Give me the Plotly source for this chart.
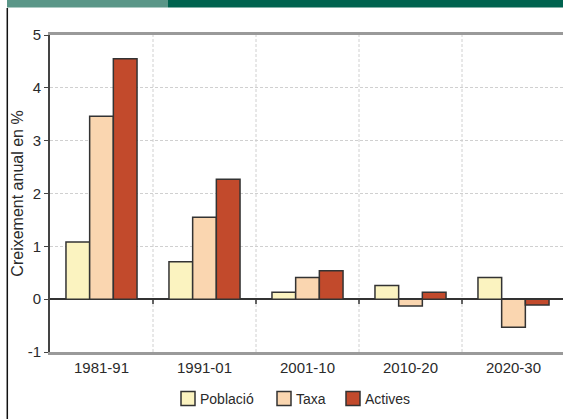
import plotly.graph_objects as go

categories = ["1981-91", "1991-01", "2001-10", "2010-20", "2020-30"]
poblacio = [1.08, 0.71, 0.13, 0.26, 0.41]
taxa = [3.46, 1.55, 0.41, -0.13, -0.53]
actives = [4.55, 2.27, 0.54, 0.13, -0.11]
series_names = ["Població", "Taxa", "Actives"]
series_colors = ["#FBF3C0", "#FAD6B0", "#C24A2C"]
ytick_vals = [-1, 0, 1, 2, 3, 4, 5]
ytick_text = ["-1", "0", "1", "2", "3", "4", "5"]

W, H = 563, 419
ml, mr, mt, mb = 50, 0, 35, 67
pw, ph = W - ml - mr, H - mt - mb

def px_x(p):
    return (p - ml) / pw

def px_y(p):
    return (H - mb - p) / ph

fig = go.Figure()
for name, vals, col in zip(series_names, [poblacio, taxa, actives], series_colors):
    fig.add_trace(go.Bar(
        x=categories, y=vals, name=name, showlegend=False,
        marker=dict(color=col, line=dict(color="#333333", width=1.5)),
    ))

shapes = []
annotations = []
for i in range(len(categories) - 1):
    shapes.append(dict(type="line", xref="x", yref="y", x0=i + 0.5, x1=i + 0.5,
                       y0=-1, y1=5, layer="below",
                       line=dict(color="#d0d0d0", width=1, dash="3px,2px")))
    shapes.append(dict(type="line", xref="x", yref="y", x0=i + 0.5, x1=i + 0.5,
                       y0=0, y1=-0.09, layer="above",
                       line=dict(color="#333333", width=1.5)))
shapes.append(dict(type="rect", xref="paper", yref="paper",
                   x0=px_x(7), x1=px_x(168), y0=px_y(7.5), y1=px_y(0),
                   fillcolor="#5A9688", line=dict(width=0)))
shapes.append(dict(type="rect", xref="paper", yref="paper",
                   x0=px_x(168), x1=px_x(563), y0=px_y(7.5), y1=px_y(0),
                   fillcolor="#00634F", line=dict(width=0)))
shapes.append(dict(type="line", xref="paper", yref="paper",
                   x0=px_x(7.3), x1=px_x(7.3), y0=px_y(8), y1=px_y(419),
                   line=dict(color="#111111", width=1.5)))

# custom legend
legend_box_x = [181, 277, 346]
for bx, name, col in zip(legend_box_x, series_names, series_colors):
    shapes.append(dict(type="rect", xref="paper", yref="paper",
                       x0=px_x(bx), x1=px_x(bx + 14), y0=px_y(405.5), y1=px_y(391.5),
                       fillcolor=col, line=dict(color="#333333", width=1.5)))
    annotations.append(dict(xref="paper", yref="paper", x=px_x(bx + 17), y=px_y(398.5),
                            xanchor="left", yanchor="middle", showarrow=False,
                            text=name, font=dict(size=14, color="#2a2a2a")))

fig.update_layout(
    width=W, height=H,
    margin=dict(l=ml, r=mr, t=mt, b=mb),
    paper_bgcolor="white", plot_bgcolor="white",
    font=dict(family="Liberation Sans, Arial, sans-serif", size=15, color="#2a2a2a"),
    barmode="group", bargap=0.31, bargroupgap=0,
    showlegend=False,
    shapes=shapes,
    annotations=annotations,
)
fig.update_xaxes(
    type="category",
    range=[-0.5, -0.5 + pw / 103.0],
    showgrid=False, showline=True, linecolor="#9a9a9a", linewidth=3, mirror=True,
    ticks="", tickfont=dict(size=15), zeroline=False,
)
fig.update_yaxes(
    range=[-1, 5], tickvals=ytick_vals, ticktext=ytick_text,
    showgrid=True, gridcolor="#d0d0d0", griddash="3px,2px", gridwidth=1,
    zeroline=True, zerolinecolor="#333333", zerolinewidth=1.5,
    showline=True, linecolor="#444444", linewidth=2,
    ticks="outside", ticklen=4, tickcolor="#444444",
    tickfont=dict(size=15),
    title=dict(text="Creixement anual en %", font=dict(size=16), standoff=0),
)

fig.write_html("out.html", config={"displayModeBar": False},
               post_script="document.body.style.margin='0';document.body.style.overflow='hidden';")
